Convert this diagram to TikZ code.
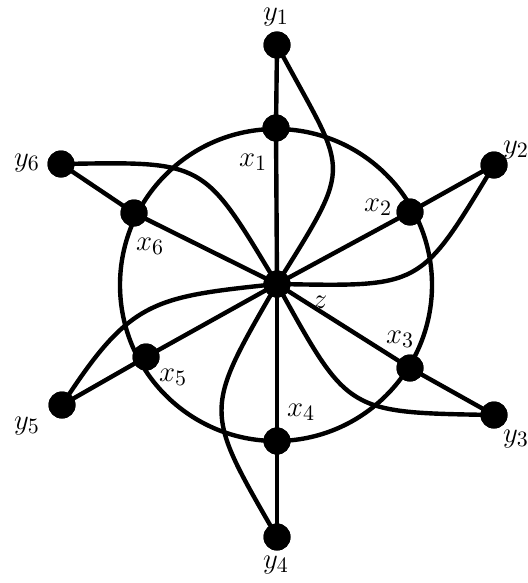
\documentclass[tikz,border=0pt]{standalone}
\begin{document}
\begin{tikzpicture}[x=0.5pt,y=-0.5pt,
  vtx/.style={circle,fill=black,inner sep=0pt,minimum size=13.5pt},
  lbl/.style={inner sep=0pt,font=\fontsize{15}{17}\selectfont},
  edge/.style={line width=2.2pt},
  curvedge/.style={line width=2.2pt,looseness=1.5}]
\useasboundingbox (0,0) rectangle (528,583);
% vertices
\coordinate (c) at (276,285);
\node[vtx] (z) at (277,284) {};
\node[vtx] (x1) at (276,128) {};
\node[vtx] (x2) at (410,212) {};
\node[vtx] (x3) at (410,368) {};
\node[vtx] (x4) at (277,441) {};
\node[vtx] (x5) at (146,357) {};
\node[vtx] (x6) at (134,213) {};
\node[vtx] (y1) at (277,45) {};
\node[vtx] (y2) at (494,165) {};
\node[vtx] (y3) at (494,415) {};
\node[vtx] (y4) at (277,537) {};
\node[vtx] (y5) at (62,405) {};
\node[vtx] (y6) at (61,164) {};
% circle
\draw[edge] (c) circle[radius=78pt];
% spokes
\foreach \i in {1,...,6} {
  \draw[edge] (z.center) -- (x\i.center);
  \draw[edge] (x\i.center) -- (y\i.center);
}
% curved edges
\draw[curvedge,looseness=1.6] (z.center) to[out=58,in=-62] (y1.center);
\draw[curvedge] (z.center) to[out=-1,in=-121] (y2.center);
\draw[curvedge] (z.center) to[out=-61,in=-181] (y3.center);
\draw[curvedge] (z.center) to[out=-120,in=120] (y4.center);
\draw[curvedge,looseness=1.3] (z.center) to[out=186,in=57] (y5.center);
\draw[curvedge] (z.center) to[out=121,in=1] (y6.center);
% redraw vertices on top
\foreach \n in {z,x1,x2,x3,x4,x5,x6,y1,y2,y3,y4,y5,y6}
  \fill (\n) circle[radius=6.75pt];
% labels
\node[lbl] (lz) at (320,302) {$z$};
\node[lbl] (lx1) at (253,162) {$x_1$};
\node[lbl] (lx2) at (378,207) {$x_2$};
\node[lbl] (lx3) at (400,339) {$x_3$};
\node[lbl] (lx4) at (301,412) {$x_4$};
\node[lbl] (lx5) at (173,377) {$x_5$};
\node[lbl] (lx6) at (150,246) {$x_6$};
\node[lbl] (ly1) at (276,17) {$y_1$};
\node[lbl] (ly2) at (516,150) {$y_2$};
\node[lbl] (ly3) at (516,439) {$y_3$};
\node[lbl] (ly4) at (276,565) {$y_4$};
\node[lbl] (ly5) at (27,426) {$y_5$};
\node[lbl] (ly6) at (27,163) {$y_6$};
\end{tikzpicture}
\end{document}
